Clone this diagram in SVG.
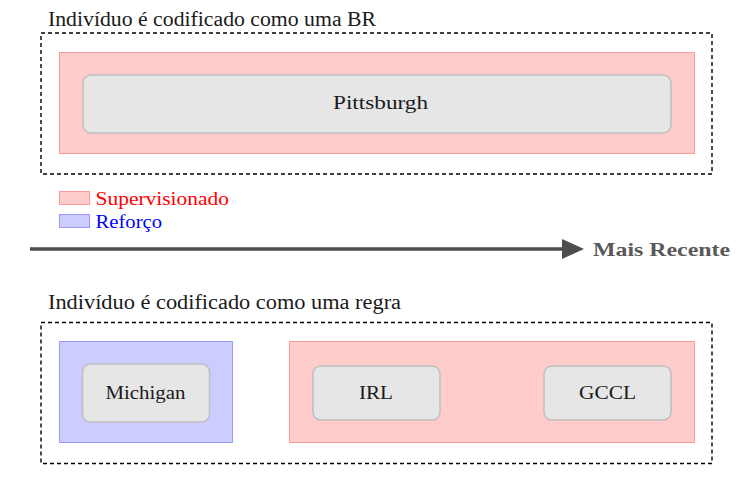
<svg xmlns="http://www.w3.org/2000/svg" width="752" height="480" viewBox="0 0 752 480">
<defs>
<style>
text{font-family:"Liberation Serif","Times New Roman",serif;fill:#1a1a1a}
.t{font-size:20px}
.frame{fill:none;stroke:#000;stroke-width:1.4;stroke-dasharray:4 3}
.sup{fill:#ffcccc;stroke:#ff9999;stroke-width:1}
.ref{fill:#ccccff;stroke:#9999ff;stroke-width:1}
.node{fill:#e6e6e6;stroke:#bfbfbf;stroke-width:1.5}
.lbl{font-size:19px}
</style>
<marker id="ah" markerWidth="22" markerHeight="20" refX="0" refY="10" orient="auto" markerUnits="userSpaceOnUse" viewBox="0 0 22 20"><path d="M0,0 L22,10 L0,20 z" fill="#4d4d4d"/></marker>
</defs>
<g id="top-frame">
<text class="t" x="48" y="26" textLength="328" lengthAdjust="spacingAndGlyphs">Indivíduo é codificado como uma BR</text>
<rect class="frame" x="41" y="33" width="671" height="141"/>
<rect class="sup" x="59.5" y="52.5" width="635" height="101"/>
</g>
<g id="pittsburgh">
<rect class="node" x="83" y="75" width="588" height="58" rx="8"/>
<text class="lbl" x="333" y="109" textLength="95" lengthAdjust="spacingAndGlyphs">Pittsburgh</text>
</g>
<g id="legend">
<rect class="sup" x="59.5" y="191.5" width="30" height="13"/>
<text x="95.5" y="205" textLength="133.5" lengthAdjust="spacingAndGlyphs" style="font-size:18px;fill:#ff0000">Supervisionado</text>
<rect class="ref" x="59.5" y="214.5" width="30" height="13"/>
<text x="95.5" y="228" textLength="66.5" lengthAdjust="spacingAndGlyphs" style="font-size:18px;fill:#0000ff">Reforço</text>
</g>
<g id="connectors">
<line x1="30" y1="249" x2="562" y2="249" stroke="#4d4d4d" stroke-width="3.5" marker-end="url(#ah)"/>
</g>
<text x="593" y="255.5" textLength="137" lengthAdjust="spacingAndGlyphs" style="font-size:19px;font-weight:bold;fill:#595959">Mais Recente</text>
<g id="bottom-frame">
<text class="t" x="48" y="308.5" textLength="353" lengthAdjust="spacingAndGlyphs">Indivíduo é codificado como uma regra</text>
<rect class="frame" x="41" y="322.5" width="671" height="141"/>
<rect class="ref" x="59.5" y="341.5" width="173" height="101"/>
<rect class="sup" x="289.5" y="341.5" width="405" height="101"/>
</g>
<g id="michigan">
<rect class="node" x="82.5" y="364" width="127" height="58" rx="8"/>
<text class="lbl" x="105.5" y="399" textLength="80" lengthAdjust="spacingAndGlyphs">Michigan</text>
</g>
<g id="irl">
<rect class="node" x="313" y="366" width="127" height="54" rx="8"/>
<text class="lbl" x="359" y="399" textLength="34" lengthAdjust="spacingAndGlyphs">IRL</text>
</g>
<g id="gccl">
<rect class="node" x="544" y="366" width="127" height="54" rx="8"/>
<text class="lbl" x="579" y="399" textLength="57" lengthAdjust="spacingAndGlyphs">GCCL</text>
</g>
</svg>
